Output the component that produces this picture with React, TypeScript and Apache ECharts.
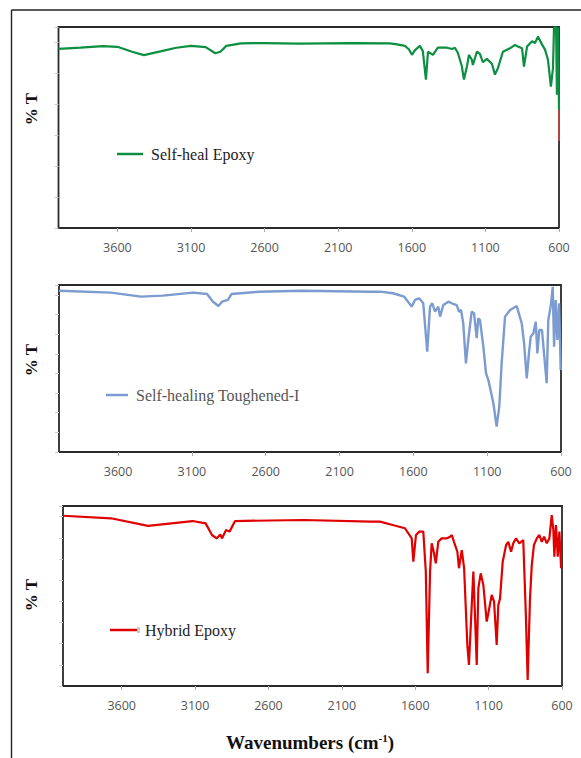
import React, { useEffect, useRef } from "react";
import * as echarts from "echarts";

// Tick labels along the wavenumber axis (cm-1)
const xTicks = [3600, 3100, 2600, 2100, 1600, 1100, 600];

// Panel 1 — Self-heal Epoxy
const selfHealWn = [4000, 3850, 3700, 3600, 3500, 3420, 3300, 3200, 3100, 3000, 2935, 2900, 2860, 2760, 2600, 2365, 2000, 1750, 1700, 1647, 1620, 1599, 1578, 1545, 1525, 1504, 1490, 1456, 1423, 1361, 1327, 1307, 1287, 1260, 1246, 1225, 1212, 1192, 1185, 1158, 1137, 1117, 1090, 1056, 1035, 1015, 981, 933, 899, 879, 851, 838, 817, 783, 763, 743, 715, 695, 675, 655, 641, 634, 620, 614, 607, 600];
const selfHealT = [57.9, 58.3, 58.8, 58.6, 57.0, 55.9, 57.2, 58.3, 58.9, 58.5, 56.5, 57.0, 58.9, 59.7, 59.8, 59.6, 59.8, 59.7, 59.4, 58.9, 57.8, 56.0, 57.5, 58.9, 57.2, 48.0, 57.0, 56.0, 58.3, 58.3, 57.9, 58.3, 56.6, 52.3, 48.0, 52.3, 56.0, 54.4, 52.7, 57.0, 56.3, 53.6, 54.7, 53.1, 49.6, 51.7, 57.0, 58.1, 59.2, 58.7, 58.1, 52.2, 58.7, 60.4, 59.8, 61.9, 59.3, 57.7, 54.4, 45.7, 51.7, 64.7, 65.0, 43.1, 64.8, 38.2];
// stray red stroke at the right edge of panel 1
const strayWn = [600, 600];
const strayT = [38.2, 28.1];

// Panel 2 — Self-healing Toughened-I
const toughWn = [4000, 3648, 3445, 3296, 3093, 2997, 2957, 2920, 2896, 2856, 2832, 2645, 2354, 1893, 1826, 1738, 1663, 1611, 1589, 1560, 1533, 1506, 1487, 1472, 1453, 1431, 1419, 1397, 1363, 1340, 1306, 1291, 1277, 1262, 1244, 1228, 1205, 1189, 1171, 1160, 1149, 1126, 1108, 1092, 1058, 1036, 1018, 1002, 979, 945, 900, 866, 850, 832, 817, 805, 787, 771, 760, 747, 729, 715, 697, 686, 670, 656, 647, 636, 625, 613, 602];
const toughT = [82.1, 81.1, 79.1, 79.6, 81.1, 80.4, 76.5, 74.3, 76.5, 77.4, 80.4, 81.6, 82.1, 81.6, 81.6, 80.8, 79.1, 74.0, 77.4, 78.2, 75.7, 51.1, 74.0, 75.7, 71.4, 74.0, 68.9, 74.8, 76.5, 75.7, 74.8, 71.4, 72.3, 65.5, 45.1, 57.0, 71.4, 70.6, 57.9, 68.1, 67.2, 53.6, 40.1, 36.6, 24.8, 12.9, 23.1, 45.1, 68.9, 72.3, 74.3, 65.5, 55.3, 37.5, 50.2, 58.7, 60.4, 66.3, 50.2, 62.1, 62.1, 50.2, 35.0, 67.2, 74.0, 84.1, 53.6, 77.4, 57.0, 75.7, 41.7];

// Panel 3 — Hybrid Epoxy
const hybridWn = [4000, 3673, 3421, 3117, 3028, 2985, 2953, 2928, 2917, 2889, 2865, 2828, 2360, 1905, 1840, 1754, 1670, 1624, 1613, 1595, 1572, 1545, 1528, 1515, 1499, 1488, 1472, 1460, 1443, 1420, 1386, 1363, 1351, 1336, 1313, 1302, 1283, 1267, 1245, 1234, 1215, 1204, 1193, 1181, 1170, 1154, 1136, 1113, 1102, 1079, 1063, 1045, 1034, 1022, 1004, 981, 966, 947, 932, 913, 891, 864, 847, 834, 818, 806, 791, 772, 754, 738, 722, 704, 686, 670, 659, 652, 641, 629, 618, 606];
const hybridT = [80.4, 79.2, 75.6, 77.9, 76.8, 71.3, 69.7, 71.6, 69.7, 73.7, 72.9, 77.9, 78.4, 77.6, 77.6, 76.0, 74.5, 69.7, 58.7, 71.3, 72.9, 72.9, 54.0, 6.0, 54.0, 67.4, 62.7, 57.9, 68.1, 69.7, 69.7, 70.5, 71.3, 68.1, 63.4, 55.6, 64.2, 55.6, 19.4, 9.9, 38.2, 54.0, 33.5, 9.9, 46.1, 53.2, 47.7, 30.4, 34.3, 43.0, 39.8, 19.4, 38.2, 41.4, 58.7, 66.6, 68.1, 63.4, 67.4, 69.7, 67.4, 68.9, 35.1, 2.8, 41.4, 57.1, 66.6, 69.7, 71.3, 68.1, 70.5, 67.4, 69.7, 80.7, 73.7, 61.1, 76.0, 61.1, 72.9, 55.6];

const seriesNames = ["Self-heal Epoxy", "Self-healing Toughened-I", "Hybrid Epoxy"];
const yTitle = "% T";
const xTitle = "Wavenumbers (cm";

const pairs = (xs: number[], ys: number[]) => xs.map((x, i) => [x, ys[i]]);

export default function App() {
  const ref = useRef<HTMLDivElement>(null);
  useEffect(() => {
    if (!ref.current) return;
    const chart = echarts.init(ref.current, null, { renderer: "svg" });

    const grids = [
      { left: 58.5, top: 27, width: 500.5, height: 201 },
      { left: 59, top: 285, width: 502, height: 167 },
      { left: 63, top: 506, width: 499, height: 180 },
    ];
    const yMax = [65, 85, 85];

    const xAxis = grids.map((_, i) => ({
      type: "value",
      gridIndex: i,
      min: 600,
      max: 4000,
      interval: 500,
      inverse: true,
      axisLine: { show: false },
      axisTick: { show: true, length: 4, lineStyle: { color: "#aaa", width: 1 } },
      splitLine: { show: false },
      axisLabel: {
        showMaxLabel: false,
        margin: 13,
        color: "#555",
        fontSize: 12.5,
        fontFamily: "Open Sans",
        formatter: (v: number) => (xTicks.includes(v) ? String(v) : ""),
      },
    }));
    const yAxis = grids.map((_, i) => ({
      type: "value",
      gridIndex: i,
      min: 0,
      max: yMax[i],
      interval: 10,
      axisLine: { show: false },
      axisTick: { show: true, length: 4, lineStyle: { color: "#ccc", width: 1 } },
      axisLabel: { show: false },
      splitLine: { show: false },
    }));

    const colors = ["#0b8f40", "#7c9bd0", "#e00000"];
    const mk = (name: string, i: number, data: number[][], color: string, width: number) => ({
      name,
      type: "line",
      xAxisIndex: i,
      yAxisIndex: i,
      data,
      showSymbol: false,
      symbol: "none",
      lineStyle: { color, width },
      itemStyle: { color },
      clip: true,
      z: 3,
    });

    const legendItem = (x: number, y: number, len: number, color: string, text: string, textColor: string) => [
      { type: "line", shape: { x1: x, y1: y, x2: x + len, y2: y }, style: { stroke: color, lineWidth: 2.5 } },
      {
        type: "text",
        x: x + len + 8,
        y,
        style: { text, fill: textColor, font: "16px 'Liberation Serif'", verticalAlign: "middle", align: "left" },
      },
    ];

    const yLabel = (y: number) => ({
      type: "text",
      x: 31,
      y,
      rotation: Math.PI / 2,
      style: { text: yTitle, fill: "#111", font: "bold 17px 'Liberation Serif'", align: "center", verticalAlign: "middle" },
    });

    chart.setOption({
      animation: false,
      backgroundColor: "#fff",
      grid: grids.map((g) => ({ ...g, show: true, borderColor: "#2a2a2a", borderWidth: 1.8, backgroundColor: "transparent" })),
      xAxis,
      yAxis,
      series: [
        mk(seriesNames[0], 0, pairs(selfHealWn, selfHealT), colors[0], 2.2),
        mk("stray", 0, pairs(strayWn, strayT), "#b5433c", 2),
        mk(seriesNames[1], 1, pairs(toughWn, toughT), colors[1], 2.4),
        mk(seriesNames[2], 2, pairs(hybridWn, hybridT), colors[2], 2.2),
      ],
      graphic: [
        { type: "line", shape: { x1: 11.5, y1: 10, x2: 581, y2: 10 }, style: { stroke: "#222", lineWidth: 1.4 } },
        { type: "line", shape: { x1: 11.5, y1: 10, x2: 11.5, y2: 758 }, style: { stroke: "#222", lineWidth: 1.4 } },
        ...legendItem(117, 154, 26, colors[0], seriesNames[0], "#222"),
        ...legendItem(106, 395, 22, colors[1], seriesNames[1], "#555"),
        ...legendItem(110, 630, 27, colors[2], seriesNames[2], "#222"),
        { type: "rect", shape: { x: 137, y: 627, width: 3, height: 6 }, style: { fill: "#ccc" } },
        yLabel(109),
        yLabel(360),
        yLabel(595),
        {
          type: "text",
          x: 310,
          y: 742,
          style: {
            text: "{a|" + xTitle + "}{s|-1}{a|)}",
            align: "center",
            verticalAlign: "middle",
            rich: {
              a: { font: "bold 19px 'Liberation Serif'", fill: "#111" },
              s: { font: "bold 11px 'Liberation Serif'", fill: "#111", verticalAlign: "top", padding: [0, 0, 8, 0] },
            },
          },
        },
      ],
    });
    return () => chart.dispose();
  }, []);
  return (
    <div
      ref={ref}
      style={{ position: "fixed", left: 0, top: 0, width: 581, height: 758, background: "#fff" }}
    />
  );
}
